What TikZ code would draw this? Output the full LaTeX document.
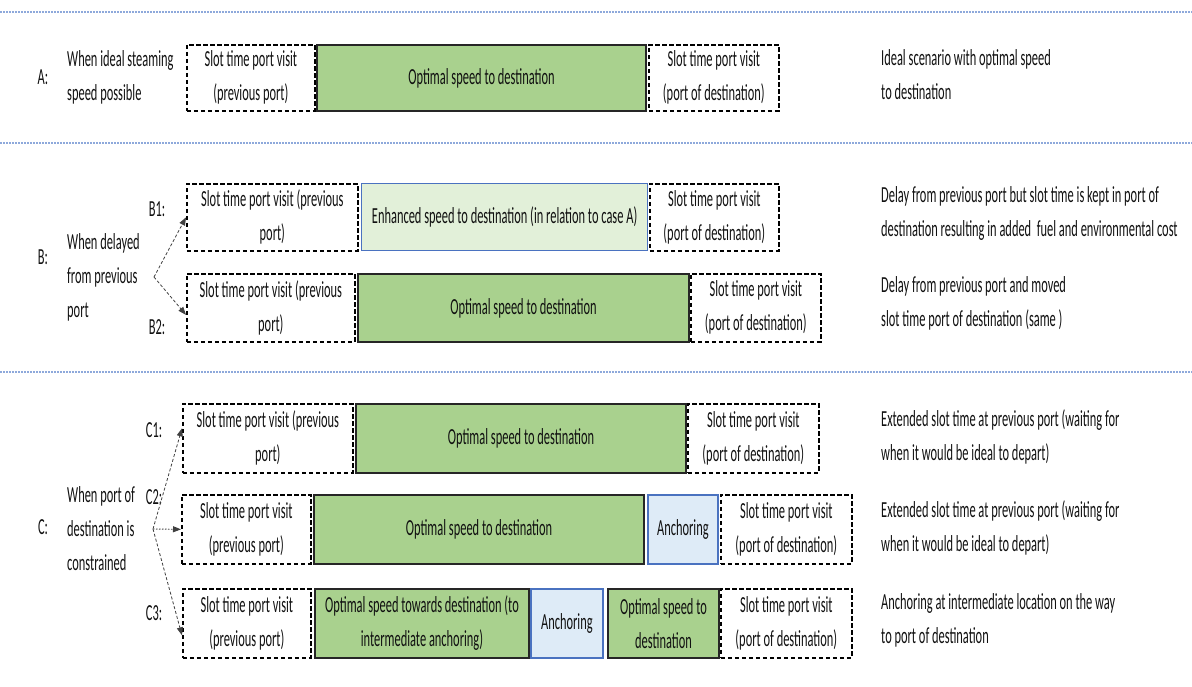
\documentclass[tikz,border=0pt]{standalone}
\usepackage{fontspec}
\setmainfont{Carlito}[FakeStretch=0.54]
\usetikzlibrary{arrows.meta}
\definecolor{gfill}{HTML}{A9D18E}
\definecolor{lgfill}{HTML}{E2F0D9}
\definecolor{lbfill}{HTML}{DEEBF7}
\definecolor{bborder}{HTML}{4A72C0}
\definecolor{sepcol}{HTML}{8EA9DB}
\definecolor{txt}{HTML}{111111}
\tikzset{
  every node/.style={font=\fontsize{23}{34}\selectfont, text=txt},
  box/.style={anchor=north west, minimum height=#1, align=center, inner sep=0pt},
  dbox/.style={draw=black, dashed, dash pattern=on 4.5pt off 2.5pt, line width=1.7pt},
  gbox/.style={draw=black!85, fill=gfill, line width=2pt},
  lgbox/.style={draw=bborder, fill=lgfill, line width=1.3pt},
  abox/.style={draw=bborder, fill=lbfill, line width=1.8pt},
  lbl/.style={anchor=center, inner sep=0pt},
  ltext/.style={anchor=west, align=left, inner sep=0pt},
  sep/.style={draw=sepcol, line width=1.4pt, dash pattern=on 1.5pt off 1.5pt},
  arr/.style={draw=black!75, line width=0.8pt, dash pattern=on 3pt off 2pt, -{Triangle[length=8pt,width=6pt]}},
  arrd/.style={draw=black!75, line width=0.9pt, dash pattern=on 1.5pt off 1.5pt, -{Triangle[length=8pt,width=6pt]}},
}
\begin{document}
\begin{tikzpicture}[x=1pt,y=-1pt]
\useasboundingbox (0,0) rectangle (1192,686);
% separators
\coordinate (s1l) at (0,12); \coordinate (s1r) at (1192,12);
\coordinate (s2l) at (0,143); \coordinate (s2r) at (1192,143);
\coordinate (s3l) at (0,372); \coordinate (s3r) at (1192,372);
\draw[sep] (s1l) -- (s1r);
\draw[sep] (s2l) -- (s2r);
\draw[sep] (s3l) -- (s3r);

% ---------- A ----------
\node[lbl] (la) at (43,77) {A:};
\node[ltext] (ta) at (67,77) {When ideal steaming\\speed possible};
\node[box=66, dbox, minimum width=128] (a1) at (186,44) {Slot time port visit\\(previous port)};
\node[box=66, gbox, minimum width=329] (a2) at (316,44) {Optimal speed to destination};
\node[box=66, dbox, minimum width=130] (a3) at (648,44) {Slot time port visit\\(port of destination)};
\node[ltext] (ra) at (881,75) {Ideal scenario with optimal speed\\to destination};

% ---------- B ----------
\node[lbl] (lb) at (43,257) {B:};
\node[ltext] (tb) at (67,277) {When delayed\\from previous\\port};
\coordinate (bsrc) at (154,277);
\node[lbl] (lb1) at (157,209) {B1:};
\node[box=67, dbox, minimum width=171] (b1a) at (186,183) {Slot time port visit (previous\\port)};
\node[box=67, lgbox, minimum width=286] (b1b) at (361,183) {Enhanced speed to destination (in relation to case A)};
\node[box=67, dbox, minimum width=129] (b1c) at (649,183) {Slot time port visit\\(port of destination)};
\node[ltext] (rb1) at (881,213) {Delay from previous port but slot time is kept in port of\\destination resulting in added\ \ fuel and environmental cost};

\node[lbl] (lb2) at (157,327) {B2:};
\node[box=68, dbox, minimum width=168] (b2a) at (186,273) {Slot time port visit (previous\\port)};
\node[box=68, gbox, minimum width=331] (b2b) at (357,273) {Optimal speed to destination};
\node[box=68, dbox, minimum width=130] (b2c) at (690,273) {Slot time port visit\\(port of destination)};
\node[ltext] (rb2) at (881,303) {Delay from previous port and moved\\slot time port of destination (same )};

\draw[arr] (bsrc) -- (b1a.west);
\draw[arr] (bsrc) -- ([yshift=-7pt]b2a.west);

% ---------- C ----------
\node[lbl] (lc) at (43,527) {C:};
\node[ltext] (tc) at (67,529) {When port of\\destination is\\constrained};
\coordinate (csrc) at (153,529);

\node[lbl] (lc1) at (154,430) {C1:};
\node[box=69, dbox, minimum width=170] (c1a) at (182,403) {Slot time port visit (previous\\port)};
\node[box=69, gbox, minimum width=330] (c1b) at (355,403) {Optimal speed to destination};
\node[box=69, dbox, minimum width=131] (c1c) at (687,403) {Slot time port visit\\(port of destination)};
\node[ltext] (rc1) at (881,437) {Extended slot time at previous port (waiting for\\when it would be ideal to depart)};

\node[lbl] (lc2) at (154,497) {C2:};
\node[box=69, dbox, minimum width=129] (c2a) at (181,494) {Slot time port visit\\(previous port)};
\node[box=69, gbox, minimum width=330] (c2b) at (313,494) {Optimal speed to destination};
\node[box=69, abox, minimum width=70] (c2c) at (647,494) {Anchoring};
\node[box=69, dbox, minimum width=131] (c2d) at (720,494) {Slot time port visit\\(port of destination)};
\node[ltext] (rc2) at (881,528) {Extended slot time at previous port (waiting for\\when it would be ideal to depart)};

\node[lbl] (lc3) at (154,613) {C3:};
\node[box=69, dbox, minimum width=128] (c3a) at (182,588) {Slot time port visit\\(previous port)};
\node[box=69, gbox, minimum width=214] (c3b) at (314,588) {Optimal speed towards destination (to\\intermediate anchoring)};
\node[box=69, abox, minimum width=72] (c3c) at (530,588) {Anchoring};
\node[box=69, gbox, minimum width=111] (c3d) at (607,588) {Optimal speed to\\destination};
\node[box=69, dbox, minimum width=131] (c3e) at (720,588) {Slot time port visit\\(port of destination)};
\node[ltext] (rc3) at (881,620) {Anchoring at intermediate location on the way\\to port of destination};

\draw[arr] (csrc) -- ([yshift=10pt]c1a.west);
\draw[arrd] (csrc) -- (c2a.west);
\draw[arr] (csrc) -- ([yshift=-12pt]c3a.west);
\end{tikzpicture}
\end{document}
